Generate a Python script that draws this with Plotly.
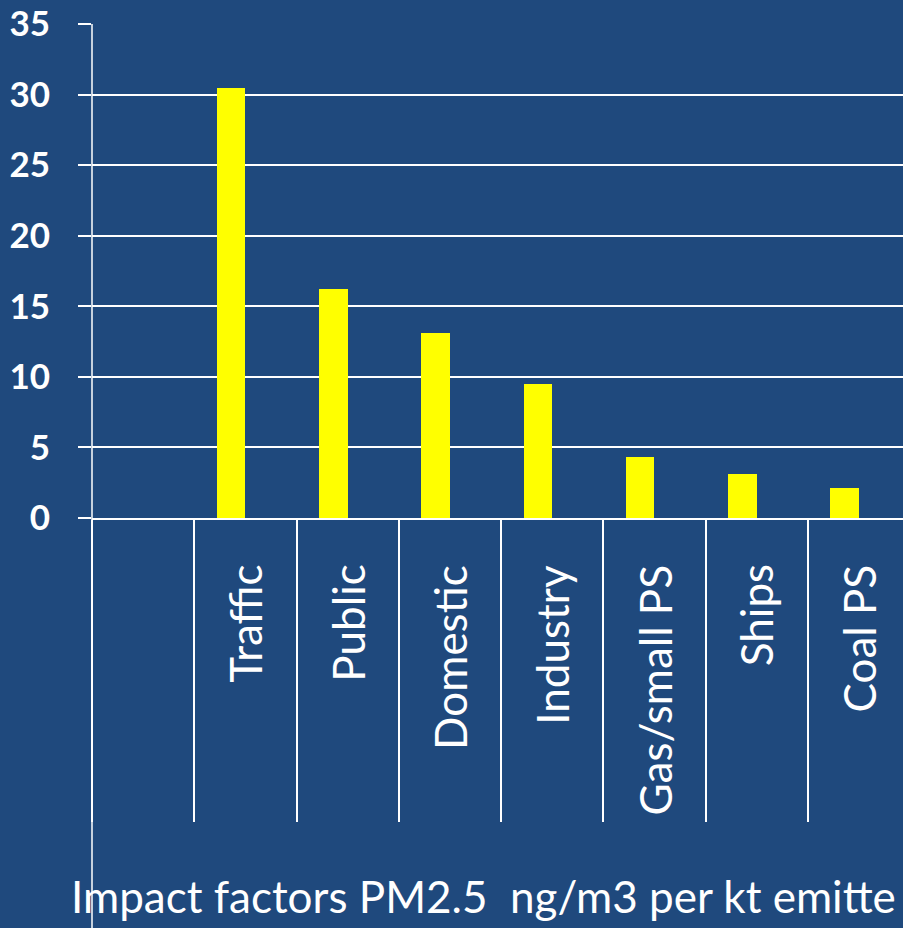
import plotly.graph_objects as go

# Impact factors of PM2.5 by emission source (ng/m3 per kt emitted)
categories = [" ", "Traffic", "Public", "Domestic", "Industry", "Gas/small PS", "Ships", "Coal PS"]
values = [None, 30.5, 16.2, 13.1, 9.5, 4.3, 3.1, 2.1]
y_ticks = [0, 5, 10, 15, 20, 25, 30, 35]
footer = "Impact factors PM2.5\u00a0\u00a0ng/m3 per kt emitte"

BG = "#1F497D"
FONT = "Lato"

fig = go.Figure()
fig.add_trace(go.Bar(
    x=categories,
    y=values,
    width=0.28,
    offset=-0.28,
    marker=dict(color="#FFFF00", line=dict(width=0)),
    showlegend=False,
))

# rotated category labels, hanging just below the baseline
for c in categories[1:]:
    fig.add_annotation(
        x=c, xref="x", y=-0.090, yref="paper",
        text=c, textangle=-90, showarrow=False,
        xanchor="center", yanchor="top",
        font=dict(family=FONT, size=44, color="white"),
    )

# footer caption
fig.add_annotation(
    x=-0.028, xref="paper", y=-0.765, yref="paper",
    text=footer, showarrow=False, xanchor="left", yanchor="middle",
    font=dict(family=FONT, size=44, color="white"),
)

# value axis line running down to the page edge
fig.add_shape(type="line", xref="paper", yref="paper",
              x0=0, x1=0, y0=1, y1=-0.9,
              line=dict(color="white", width=1.5))

fig.update_layout(
    width=903, height=928,
    margin=dict(l=92, r=0, t=24, b=410),
    paper_bgcolor=BG, plot_bgcolor=BG,
    bargap=0,
    xaxis=dict(
        type="category", categoryorder="array", categoryarray=categories,
        range=[-0.5, 7.43],
        tickson="boundaries", ticks="outside", ticklen=302,
        tickcolor="white", tickwidth=1.5,
        showticklabels=False, showgrid=False, zeroline=False,
        showline=True, linecolor="white", linewidth=1.5,
    ),
    yaxis=dict(
        range=[0, 35], tickvals=y_ticks,
        ticks="outside", ticklen=13, tickcolor="white", tickwidth=1.5,
        showgrid=True, gridcolor="white", gridwidth=1.5,
        zeroline=False, showline=False,
        tickfont=dict(family=FONT, size=35, color="white", weight="bold"),
        ticklabelstandoff=21,
    ),
)

fig.write_html("out.html")
